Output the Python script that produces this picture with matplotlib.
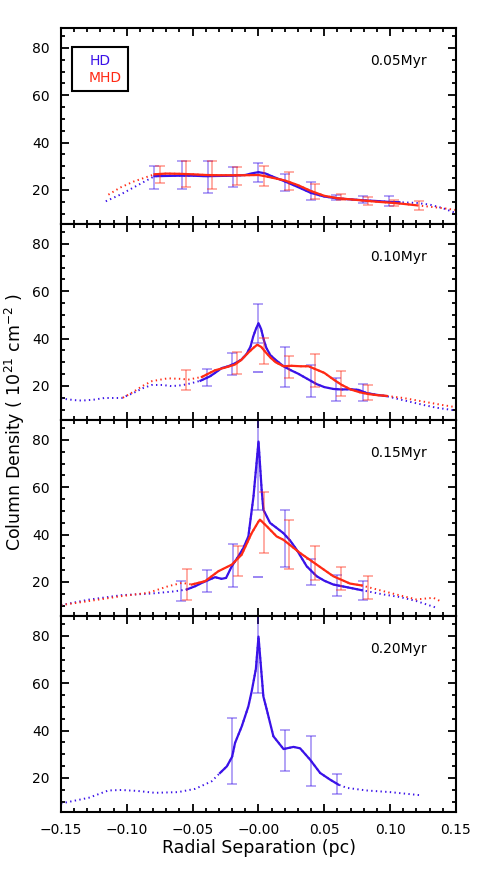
import numpy as np
import matplotlib
matplotlib.use('Agg')
import matplotlib.pyplot as plt
from matplotlib.patches import Rectangle
from matplotlib.ticker import MultipleLocator

# colours
blue = '#3a12e8'
red = '#ff2a14'

times = ['0.05Myr', '0.10Myr', '0.15Myr', '0.20Myr']
xtick_vals = [-0.15, -0.10, -0.05, 0.0, 0.05, 0.10, 0.15]
xtick_labels = ['\u22120.15', '\u22120.10', '\u22120.05', '\u22120.00', '0.05', '0.10', '0.15']

# ---- 0.05 Myr
hd05_x = [-0.116, -0.105, -0.095, -0.079, -0.07, -0.06, -0.05, -0.04, -0.03, -0.02, -0.01, -0.005, 0.0, 0.005,
          0.01, 0.02, 0.03, 0.04, 0.05, 0.06, 0.07, 0.08, 0.09, 0.10, 0.107, 0.12, 0.13, 0.14, 0.15]
hd05_y = [15.2, 18.0, 21.0, 25.8, 25.9, 26.0, 26.0, 25.8, 25.9, 26.0, 26.3, 27.0, 27.5, 27.0,
          25.8, 23.6, 21.2, 18.7, 17.2, 16.4, 16.0, 15.6, 15.3, 14.9, 14.8, 14.5, 13.8, 12.3, 10.2]
hd05_solid = (-0.079, 0.107)
mhd05_x = [-0.114, -0.105, -0.095, -0.079, -0.07, -0.06, -0.05, -0.04, -0.03, -0.02, -0.01, 0.0, 0.005, 0.01,
           0.02, 0.03, 0.04, 0.05, 0.06, 0.07, 0.08, 0.09, 0.10, 0.11, 0.12, 0.13, 0.14, 0.15]
mhd05_y = [18.0, 21.0, 23.5, 26.6, 26.9, 26.8, 26.6, 26.3, 26.2, 26.2, 26.2, 26.3, 25.8, 25.2,
           24.0, 22.0, 19.5, 17.5, 16.5, 16.0, 15.5, 15.0, 14.6, 14.1, 13.5, 12.9, 12.3, 11.5]
mhd05_solid = (-0.079, 0.12)
hd05_ex = [-0.079, -0.058, -0.038, -0.019, 0.0, 0.02, 0.04, 0.059, 0.079, 0.099]
hd05_lo = [20.4, 20.4, 18.5, 21.3, 23.2, 19.4, 15.9, 15.6, 14.5, 13.4]
hd05_hi = [30.1, 32.3, 32.1, 29.7, 31.3, 26.6, 23.2, 17.9, 17.3, 17.5]
mhd05_ex = [-0.075, -0.055, -0.035, -0.016, 0.004, 0.023, 0.043, 0.063, 0.083, 0.103, 0.122]
mhd05_lo = [23.0, 21.3, 20.4, 22.0, 21.8, 19.9, 16.3, 15.8, 13.7, 13.1, 11.4]
mhd05_hi = [29.9, 32.4, 32.1, 29.6, 30.0, 27.6, 22.7, 18.3, 16.9, 15.8, 15.2]

# ---- 0.10 Myr
hd10_x = [-0.15, -0.14, -0.134, -0.125, -0.117, -0.104, -0.095, -0.088, -0.081, -0.073, -0.066, -0.058, -0.052,
          -0.044, -0.037, -0.033, -0.028, -0.023, -0.018, -0.013, -0.009, -0.006, -0.004, -0.002, 0.0, 0.002,
          0.004, 0.006, 0.009, 0.013, 0.019, 0.025, 0.03, 0.037, 0.044, 0.05, 0.057, 0.063, 0.07, 0.076, 0.082,
          0.089, 0.097, 0.105, 0.115, 0.125, 0.135, 0.15]
hd10_y = [14.7, 14.0, 13.8, 14.2, 14.9, 14.9, 17.0, 19.0, 20.4, 20.4, 19.9, 20.3, 21.0,
          22.2, 24.0, 25.5, 27.5, 28.3, 29.5, 31.1, 33.5, 36.7, 40.9, 44.0, 46.5, 44.0,
          39.5, 36.0, 33.0, 31.0, 28.3, 26.5, 25.2, 23.0, 20.8, 19.5, 18.7, 18.5, 18.6, 18.3, 17.0,
          16.3, 15.7, 14.6, 13.3, 12.0, 10.8, 9.6]
hd10_solid = (-0.044, 0.097)
mhd10_x = [-0.103, -0.095, -0.088, -0.081, -0.069, -0.06, -0.053, -0.043, -0.033, -0.025, -0.018, -0.013, -0.008,
           -0.004, -0.001, 0.002, 0.005, 0.009, 0.013, 0.019, 0.025, 0.032, 0.038, 0.044, 0.05, 0.057, 0.063,
           0.07, 0.077, 0.083, 0.09, 0.097, 0.11, 0.12, 0.13, 0.14, 0.15]
mhd10_y = [15.0, 17.5, 20.0, 22.0, 23.2, 23.0, 22.7, 23.8, 26.6, 27.8, 29.0, 31.0, 33.9,
           36.0, 37.4, 36.5, 34.5, 32.0, 30.0, 28.3, 28.5, 28.3, 28.3, 26.9, 25.5, 22.7, 20.5,
           18.5, 17.3, 16.6, 16.1, 15.8, 14.9, 13.9, 12.9, 11.9, 11.0]
mhd10_solid = (-0.043, 0.097)
hd10_ex = [-0.039, -0.020, 0.0, 0.02, 0.04, 0.059, 0.079]
hd10_lo = [20.0, 24.8, 38.0, 19.6, 15.2, 13.5, 13.8]
hd10_hi = [27.3, 33.9, 54.8, 36.3, 29.0, 23.4, 20.8]
mhd10_ex = [-0.055, -0.016, 0.004, 0.023, 0.043, 0.063, 0.083]
mhd10_lo = [18.3, 25.1, 29.4, 23.4, 19.7, 15.6, 14.2]
mhd10_hi = [26.6, 34.5, 40.1, 32.6, 33.6, 26.5, 20.3]
hd10_dash = (0.0, 25.8)

# ---- 0.15 Myr
hd15_x = [-0.15, -0.129, -0.104, -0.081, -0.064, -0.0545, -0.048, -0.043, -0.033, -0.028, -0.0246, -0.0203,
          -0.0153, -0.0115, -0.0077, -0.0038, 0.0, 0.0024, 0.0037, 0.0088, 0.0138, 0.0189, 0.024, 0.029, 0.0366,
          0.0442, 0.05, 0.0568, 0.0695, 0.0784, 0.083, 0.0948, 0.1075, 0.12, 0.134]
hd15_y = [10.2, 12.5, 14.4, 15.1, 16.0, 16.8, 18.2, 19.6, 22.0, 21.3, 21.7, 26.6,
          30.8, 34.3, 39.2, 56.1, 79.3, 58.9, 50.5, 44.9, 42.8, 40.6, 37.5, 33.6, 26.6,
          22.4, 20.5, 18.9, 17.5, 16.5, 16.0, 14.7, 13.6, 11.9, 9.3]
hd15_solid = (-0.0545, 0.0784)
mhd15_x = [-0.15, -0.129, -0.104, -0.0837, -0.0685, -0.058, -0.0507, -0.0406, -0.0305, -0.0203, -0.0128,
           -0.0052, 0.0, 0.0011, 0.0063, 0.0138, 0.0189, 0.0316, 0.0442, 0.0568, 0.0695, 0.0784, 0.0948,
           0.1075, 0.12, 0.1328, 0.138]
mhd15_y = [10.2, 11.9, 14.0, 15.4, 18.2, 19.6, 18.9, 20.3, 24.5, 27.3, 31.5,
           40.6, 45.5, 46.3, 43.5, 39.2, 37.8, 32.2, 27.3, 22.4, 19.3, 18.5, 16.1,
           14.3, 12.6, 13.3, 11.9]
mhd15_solid = (-0.0507, 0.0784)
hd15_ex = [-0.0588, -0.0393, -0.0196, 0.0, 0.02, 0.04, 0.0595, 0.079]
hd15_lo = [12.0, 15.8, 18.0, 50.5, 26.3, 18.5, 14.2, 12.3]
hd15_hi = [20.3, 25.2, 35.9, 108.0, 50.2, 29.8, 22.8, 20.3]
mhd15_ex = [-0.0545, -0.0158, 0.004, 0.023, 0.043, 0.063, 0.083]
mhd15_lo = [12.3, 22.7, 32.2, 25.5, 20.7, 16.5, 12.6]
mhd15_hi = [25.5, 35.0, 57.9, 46.1, 35.0, 26.3, 22.7]
hd15_dash = (0.0, 22.0)

# ---- 0.20 Myr (HD only)
hd20_x = [-0.15, -0.129, -0.114, -0.104, -0.092, -0.0786, -0.061, -0.048, -0.0355, -0.033, -0.0292, -0.024,
          -0.02, -0.0178, -0.0127, -0.0077, -0.0052, -0.002, 0.0, 0.002, 0.0037, 0.0063, 0.0113, 0.019, 0.0266,
          0.0316, 0.0392, 0.0468, 0.0543, 0.0606, 0.067, 0.082, 0.10, 0.1227]
hd20_y = [9.2, 11.6, 14.7, 14.9, 14.5, 13.7, 14.0, 15.4, 18.6, 20.0, 22.1, 24.9,
          29.0, 34.8, 41.8, 50.2, 56.5, 66.0, 79.7, 66.0, 54.4, 48.8, 37.6, 32.2, 33.1,
          32.5, 27.7, 22.1, 19.3, 17.2, 15.8, 14.7, 14.0, 12.7]
hd20_solid = (-0.0292, 0.0606)
hd20_ex = [-0.02, 0.0, 0.02, 0.04, 0.06]
hd20_lo = [17.5, 55.8, 23.1, 16.5, 13.0]
hd20_hi = [45.3, 104.0, 40.2, 37.7, 21.7]

panels = [
    [(hd05_x, hd05_y, hd05_solid, hd05_ex, hd05_lo, hd05_hi, blue),
     (mhd05_x, mhd05_y, mhd05_solid, mhd05_ex, mhd05_lo, mhd05_hi, red)],
    [(hd10_x, hd10_y, hd10_solid, hd10_ex, hd10_lo, hd10_hi, blue),
     (mhd10_x, mhd10_y, mhd10_solid, mhd10_ex, mhd10_lo, mhd10_hi, red)],
    [(hd15_x, hd15_y, hd15_solid, hd15_ex, hd15_lo, hd15_hi, blue),
     (mhd15_x, mhd15_y, mhd15_solid, mhd15_ex, mhd15_lo, mhd15_hi, red)],
    [(hd20_x, hd20_y, hd20_solid, hd20_ex, hd20_lo, hd20_hi, blue)],
]
dashes = [None, hd10_dash, hd15_dash, None]

plt.rcParams['font.family'] = 'DejaVu Sans'
plt.rcParams['font.size'] = 10

fig, axes = plt.subplots(4, 1, figsize=(4.85, 8.72), dpi=100, sharex=True)
fig.subplots_adjust(left=61/485, right=456/485, top=1-28/872, bottom=1-812/872, hspace=0)

for i, ax in enumerate(axes):
    for (x, y, solid, ex, lo, hi, c) in panels[i]:
        x = np.array(x)
        y = np.array(y)
        ax.plot(x, y, ls=(0, (0.7, 1.7)), color=c, lw=1.4, dash_capstyle='butt')
        m = (x >= solid[0]) & (x <= solid[1])
        ax.plot(x[m], y[m], '-', color=c, lw=1.6)
        lo = np.array(lo)
        hi = np.array(hi)
        mid = (lo + hi) / 2
        ax.errorbar(ex, mid, yerr=[mid - lo, hi - mid], fmt='none', ecolor=c, alpha=0.45,
                    elinewidth=1.2, capsize=3.6, capthick=1.2)
    if dashes[i] is not None:
        ax.plot(dashes[i][0], dashes[i][1], marker='_', ms=7, mew=1.2, color=blue, alpha=0.6)

    ax.set_xlim(-0.15, 0.15)
    ax.set_ylim(5.6, 88.4)
    ax.set_yticks([20, 40, 60, 80])
    ax.yaxis.set_minor_locator(MultipleLocator(5))
    ax.xaxis.set_minor_locator(MultipleLocator(0.01))
    ax.tick_params(which='both', direction='in', top=True, right=True, width=1.3)
    ax.tick_params(which='major', length=6, labelsize=10, pad=8)
    ax.tick_params(which='minor', length=3)
    for s in ax.spines.values():
        s.set_linewidth(1.5)
    ax.text(0.927, 0.83, times[i], ha='right', va='center', transform=ax.transAxes, fontsize=10)

axes[-1].set_xticks(xtick_vals)
axes[-1].set_xticklabels(xtick_labels)

# legend box
ax0 = axes[0]
ax0.add_patch(Rectangle((0.027, 0.679), 0.143, 0.226, transform=ax0.transAxes,
                        fill=False, edgecolor='black', lw=1.5, zorder=5))
ax0.text(0.073, 0.83, 'HD', color=blue, transform=ax0.transAxes, va='center', fontsize=10)
ax0.text(0.071, 0.745, 'MHD', color=red, transform=ax0.transAxes, va='center', fontsize=10)

fig.text(0.031, 0.516, 'Column Density ( 10$^{21}$ cm$^{-2}$ )', rotation=90, ha='center', va='center',
         fontsize=12.5)
fig.text(0.533, 0.027, 'Radial Separation (pc)', ha='center', va='center', fontsize=12.5)

fig.savefig('out.png', dpi=100)
